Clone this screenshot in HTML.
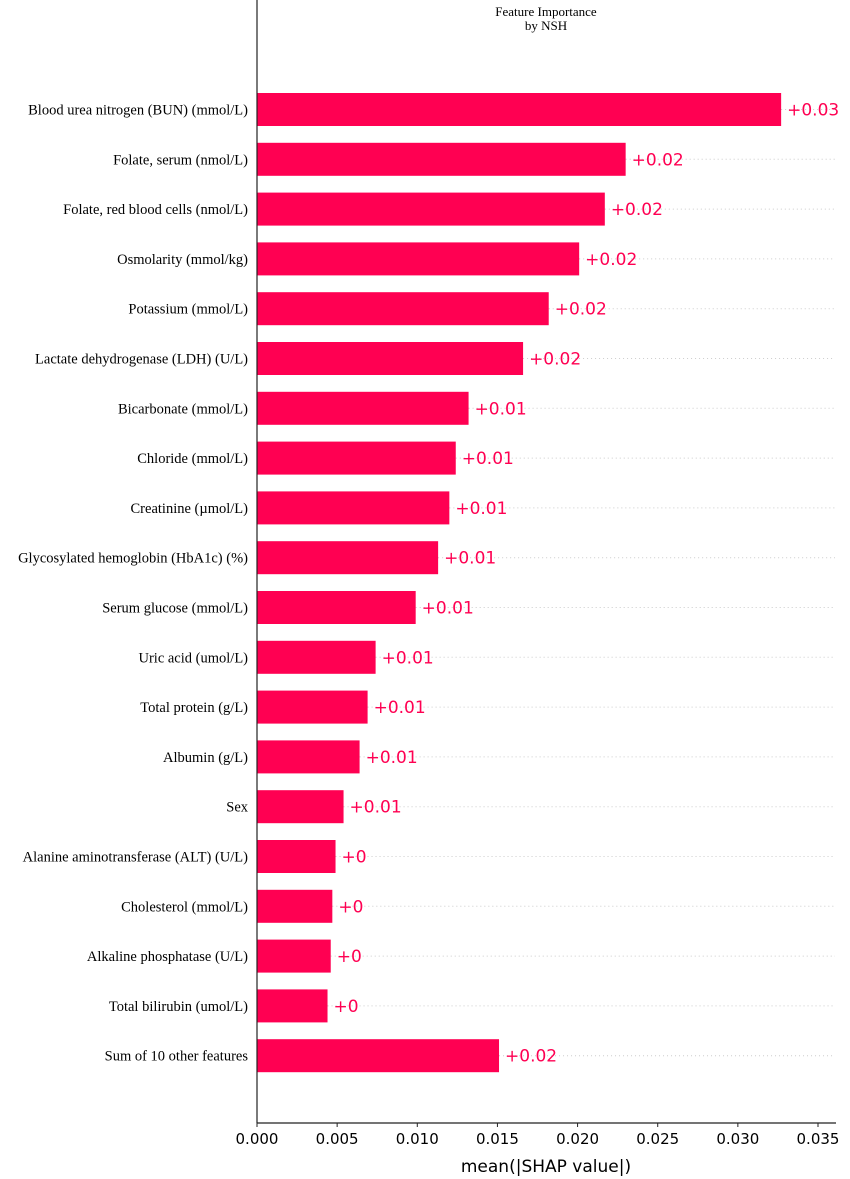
<!DOCTYPE html>
<html><head><meta charset="utf-8"><style>
body{margin:0;background:#fff}
svg{display:block}
</style></head><body>
<svg id="chart" width="850" height="1179" xmlns="http://www.w3.org/2000/svg">
<text x="546" y="16" text-anchor="middle" font-family="Liberation Serif, serif" font-size="13">Feature Importance</text>
<text x="546" y="30" text-anchor="middle" font-family="Liberation Serif, serif" font-size="13">by NSH</text>
<g id="grid"></g><g id="bars"></g><g id="axis"></g>
</svg>
<script>
const categories=["Blood urea nitrogen (BUN) (mmol/L)","Folate, serum (nmol/L)","Folate, red blood cells (nmol/L)","Osmolarity (mmol/kg)","Potassium (mmol/L)","Lactate dehydrogenase (LDH) (U/L)","Bicarbonate (mmol/L)","Chloride (mmol/L)","Creatinine (µmol/L)","Glycosylated hemoglobin (HbA1c) (%)","Serum glucose (mmol/L)","Uric acid (umol/L)","Total protein (g/L)","Albumin (g/L)","Sex","Alanine aminotransferase (ALT) (U/L)","Cholesterol (mmol/L)","Alkaline phosphatase (U/L)","Total bilirubin (umol/L)","Sum of 10 other features"];
const values=[0.0327,0.0230,0.0217,0.0201,0.0182,0.0166,0.0132,0.0124,0.0120,0.0113,0.0099,0.0074,0.0069,0.0064,0.0054,0.0049,0.0047,0.0046,0.0044,0.0151];
const valueLabels=["+0.03","+0.02","+0.02","+0.02","+0.02","+0.02","+0.01","+0.01","+0.01","+0.01","+0.01","+0.01","+0.01","+0.01","+0.01","+0","+0","+0","+0","+0.02"];
const tickValues=[0,0.005,0.010,0.015,0.020,0.025,0.030,0.035];
const tickLabels=["0.000","0.005","0.010","0.015","0.020","0.025","0.030","0.035"];
const NS="http://www.w3.org/2000/svg";
const x0=257,x1=818,xmax=0.035,axisY=1123,rowTop=109.5,rowStep=49.8,barH=33;
const xs=v=>x0+(v/xmax)*(x1-x0);
const ys=i=>rowTop+i*rowStep;
function mk(tag,attrs,parent){const e=document.createElementNS(NS,tag);for(const k in attrs)e.setAttribute(k,attrs[k]);parent.appendChild(e);return e;}
const grid=document.getElementById('grid'),bars=document.getElementById('bars'),axis=document.getElementById('axis');
categories.forEach((c,i)=>{
  const y=ys(i),xe=xs(values[i]);
  const g=mk('line',{x1:xe,x2:835,y1:y,y2:y,stroke:'#ccc','stroke-width':1,'stroke-dasharray':'1,3'},grid);
  
  
  const r=mk('rect',{x:x0,y:y-barH/2,width:xe-x0,height:barH,fill:'#ff0052'},bars);
  
  
  const t=mk('text',{x:xe+6,y:y+6,fill:'#ff0052','font-family':'DejaVu Sans, sans-serif','font-size':17},bars);
  t.textContent=valueLabels[i];
  
  
  const l=mk('text',{x:248,y:y+5,'text-anchor':'end','font-family':'Liberation Serif, serif','font-size':14.5},bars);
  l.textContent=c;
  
  
});
const sp=mk('line',{x1:x0,x2:x0,y1:0,y2:axisY,stroke:'#222','stroke-width':1.2},axis);


const bl=mk('line',{x1:x0,x2:836,y1:axisY,y2:axisY,stroke:'#222','stroke-width':1.2},axis);


tickValues.forEach((v,i)=>{
  const x=xs(v);
  const tk=mk('line',{x1:x,x2:x,y1:axisY,y2:axisY+4,stroke:'#222'},axis);
  
  
  const t=mk('text',{x:x,y:axisY+21,'text-anchor':'middle','font-family':'DejaVu Sans, sans-serif','font-size':15},axis);
  t.textContent=tickLabels[i];
  
  
});
const xt=mk('text',{x:546,y:axisY+49,'text-anchor':'middle','font-family':'DejaVu Sans, sans-serif','font-size':17},axis);
xt.textContent='mean(|SHAP value|)';


</script>
</body></html>
